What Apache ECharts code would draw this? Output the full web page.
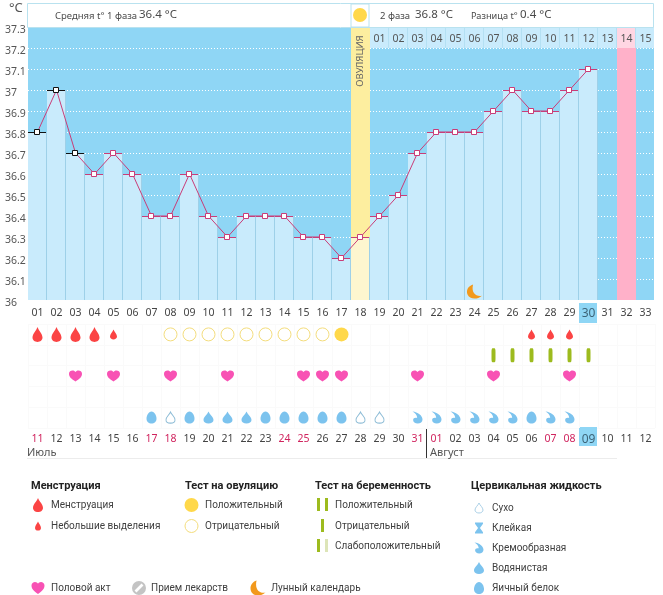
<!DOCTYPE html>
<html>
<head>
<meta charset="utf-8">
<script src="https://cdn.jsdelivr.net/npm/echarts@6/dist/echarts.min.js"></script>
<style>
  html, body { margin: 0; padding: 0; background: #fff; }
  #chart { width: 663px; height: 595px; }
</style>
</head>
<body>
<div id="chart"></div>
<script>
var cycleDays = ['01','02','03','04','05','06','07','08','09','10','11','12','13','14','15','16','17',
    '18','19','20','21','22','23','24','25','26','27','28','29','30','31','32','33'];
var calendarDays = ['11','12','13','14','15','16','17','18','19','20','21','22','23','24','25','26','27',
    '28','29','30','31','01','02','03','04','05','06','07','08','09','10','11','12'];
var nextCycleDays = ['','','','','','','','','','','','','','','','','',
    '','01','02','03','04','05','06','07','08','09','10','11','12','13','14','15'];
var temperatures = [36.8,37,36.7,36.6,36.7,36.6,36.4,36.4,36.6,36.4,36.3,36.4,36.4,36.4,36.3,36.3,36.2,
    36.3,36.4,36.5,36.7,36.8,36.8,36.8,36.9,37,36.9,36.9,37,37.1,null,null,null];
var redDates = [0,6,7,13,14,20,21,27,28];   // колонки выходных
var rowNames = ['Менструация', 'Тест на беременность', 'Половой акт', 'Прием лекарств', 'Цервикальная жидкость'];

var menstruationDays = [1,2,3,4];
var spottingDays = [5,27,28,29];
var ovulationNegDays = [8,9,10,11,12,13,14,15,16];
var ovulationPosDays = [17];
var pregnancyNegDays = [25,26,27,28,29,30];
var sexDays = [3,5,8,11,15,16,17,21,25,29];
var dryDays = [8,18,19];
var creamyDays = [21,22,23,24,25,26,28,29];
var waterDays = [10,11,12];
var eggDays = [7,9,13,14,15,16,17,27];
var moonDays = [24];
var moonLevel = 36.04;

var OVULATION_COL = 17, PINK_COL = 31, TODAY_COL = 29;
var DARK_POINTS = 3;
var MAGENTA = '#c93d78';

var PATHS = {
    drop: 'path://M50 0C62 30 100 52 100 85C100 105 78 120 50 120C22 120 0 105 0 85C0 52 38 30 50 0Z',
    heart: 'path://M50 100C20 78 0 60 0 30C0 10 14 0 27 0C38 0 46 6 50 14C54 6 62 0 73 0C86 0 100 10 100 30C100 60 80 78 50 100Z',
    egg: 'path://M50 0C80 0 100 40 100 72C100 102 78 120 50 120C22 120 0 102 0 72C0 40 20 0 50 0Z',
    creamy: 'path://M6 0C55 5 100 40 100 80C100 105 80 120 55 120C30 120 12 105 12 85C12 65 30 58 50 64C50 40 32 15 6 0Z',
    moon: 'path://M42 0C8 10 -4 42 6 68C18 96 62 108 100 76C62 84 28 58 42 0Z',
    sticky: 'path://M0 0L100 0L100 12L62 50L100 88L100 100L0 100L0 88L38 50L0 12Z',
    pill: 'path://M50 0A50 50 0 1 1 49.9 0ZM68 18L18 68L32 82L82 32Z'
};
var COLORS = {
    red: '#fb4444', heart: '#f852b4', yellow: '#ffd84a', ring: '#f3dc7c',
    green: '#9dbb1e', blue: '#7cc3ee', moon: '#f2991c', text: '#555555'
};

function toPoints(days, row) {
    return days.map(function (d) { return [d - 1, row]; });
}

function iconSeries(name, days, row, symbol, size, style) {
    return {
        name: name, type: 'scatter', xAxisIndex: 2, yAxisIndex: 1,
        data: toPoints(days, row), symbol: symbol, symbolSize: size,
        itemStyle: style, silent: true, z: 4
    };
}

// прямоугольник на всю колонку между двумя значениями
function columnRect(api, col, from, to) {
    var p0 = api.coord([col, from]);
    var p1 = api.coord([col, to]);
    var w = api.size([1, 0])[0];
    return { x: Math.round(p0[0] - w / 2), y: Math.round(p1[1]), width: Math.round(w), height: Math.round(p0[1] - p1[1]) };
}

var stripData = [[OVULATION_COL, 36, 37.3], [PINK_COL, 36, 37.2]];
var topBandData = [];
for (var c = 18; c < 33; c++) topBandData.push([c, 37.2, 37.3]);
var columnData = [];
temperatures.forEach(function (t, i) { if (t !== null) columnData.push([i, t]); });

var dashColor = function (params) { return params.dataIndex < DARK_POINTS ? '#111' : MAGENTA; };

// ---- значки легенды ----
function icon(path, cx, cy, w, h, style) {
    return { type: 'path',
        shape: { pathData: path.replace('path://', ''), x: cx - w / 2, y: cy - h / 2, width: w, height: h, layout: 'cover' },
        style: style };
}
var legendIcons = [
    icon(PATHS.drop, 38, 505, 10, 14, { fill: COLORS.red }),
    icon(PATHS.drop, 38, 526, 6, 9, { fill: COLORS.red }),
    icon(PATHS.drop, 479, 508, 8, 10, { fill: '#fff', stroke: '#a9cfe6', lineWidth: 1 }),
    icon(PATHS.sticky, 479, 528, 8, 11, { fill: COLORS.blue }),
    icon(PATHS.creamy, 479, 548, 9, 11, { fill: COLORS.blue }),
    icon(PATHS.drop, 479, 568, 10, 12, { fill: COLORS.blue }),
    icon(PATHS.egg, 479, 588, 10, 12, { fill: COLORS.blue }),
    icon(PATHS.heart, 38, 588, 13, 12, { fill: COLORS.heart }),
    icon(PATHS.pill, 139, 588, 14, 14, { fill: '#c4c4c4' }),
    icon(PATHS.moon, 258, 588, 15, 15, { fill: COLORS.moon })
];

var series = [
    {
        name: 'strips', type: 'custom', xAxisIndex: 0, yAxisIndex: 0, silent: true, z: 1,
        data: stripData,
        renderItem: function (params, api) {
            var col = api.value(0);
            return { type: 'rect', shape: columnRect(api, col, api.value(1), api.value(2)),
                style: { fill: col === OVULATION_COL ? '#fdee9f' : '#ffb1c9' } };
        }
    },
    {
        name: 'topBand', type: 'custom', xAxisIndex: 0, yAxisIndex: 0, silent: true, z: 1,
        data: topBandData,
        renderItem: function (params, api) {
            var col = api.value(0);
            var r = columnRect(api, col, api.value(1), api.value(2));
            return { type: 'group', children: [
                { type: 'rect', shape: r, style: { fill: col === PINK_COL ? '#ffd6e3' : '#c9ebfc' } },
                { type: 'rect', shape: { x: r.x + r.width - 1, y: r.y, width: 1, height: r.height }, style: { fill: '#b4e0f3' } }
            ] };
        }
    },
    {
        name: 'columns', type: 'custom', xAxisIndex: 0, yAxisIndex: 0, silent: true, z: 2,
        data: columnData,
        renderItem: function (params, api) {
            var col = api.value(0);
            var r = columnRect(api, col, 36, api.value(1));
            return { type: 'group', children: [
                { type: 'rect', shape: r, style: { fill: col === OVULATION_COL ? '#fdf6cf' : '#c9ebfc' } },
                { type: 'rect', shape: { x: r.x + r.width - 1, y: r.y, width: 1, height: r.height }, style: { fill: '#9ed0e8' } }
            ] };
        }
    },
    {
        name: 'Температура', type: 'line', xAxisIndex: 0, yAxisIndex: 0, z: 3, silent: true,
        data: temperatures, symbol: 'none', connectNulls: false,
        lineStyle: { color: MAGENTA, width: 1 }
    },
    {
        name: 'dash', type: 'scatter', xAxisIndex: 0, yAxisIndex: 0, z: 3, silent: true,
        data: temperatures, symbol: 'rect', symbolSize: [18, 1], symbolOffset: [-0.5, 0.5],
        itemStyle: { color: dashColor, opacity: 1 }
    },
    {
        name: 'markers', type: 'scatter', xAxisIndex: 0, yAxisIndex: 0, z: 5, silent: true,
        data: temperatures.map(function (t, i) {
            return { value: t, itemStyle: { borderColor: i < DARK_POINTS ? '#111' : MAGENTA } };
        }),
        symbol: 'rect', symbolSize: 5, symbolOffset: [-0.5, 0],
        itemStyle: { color: '#fff', borderWidth: 1, opacity: 1 }
    },
    {
        name: 'Лунный календарь', type: 'scatter', xAxisIndex: 0, yAxisIndex: 0, z: 4, silent: true,
        data: moonDays.map(function (d) { return [d - 1, moonLevel]; }),
        symbol: PATHS.moon, symbolSize: [15, 14], itemStyle: { color: COLORS.moon, opacity: 1 }
    },
    iconSeries('Менструация', menstruationDays, 0, PATHS.drop, [10, 15], { color: COLORS.red, opacity: 1 }),
    iconSeries('Небольшие выделения', spottingDays, 0, PATHS.drop, [7, 10], { color: COLORS.red, opacity: 1 }),
    iconSeries('Овуляция отрицательный', ovulationNegDays, 0, 'circle', 13, { color: '#fff', borderColor: COLORS.ring, borderWidth: 1, opacity: 1 }),
    iconSeries('Овуляция положительный', ovulationPosDays, 0, 'circle', 14, { color: COLORS.yellow, opacity: 1 }),
    iconSeries('Беременность отрицательный', pregnancyNegDays, 1, 'roundRect', [4, 14], { color: COLORS.green, opacity: 1 }),
    iconSeries('Половой акт', sexDays, 2, PATHS.heart, [13, 11], { color: COLORS.heart, opacity: 1 }),
    iconSeries('Сухо', dryDays, 4, PATHS.drop, [9, 11], { color: '#fff', borderColor: '#8dbcd6', borderWidth: 1, opacity: 1 }),
    iconSeries('Кремообразная', creamyDays, 4, PATHS.creamy, [10, 12], { color: COLORS.blue, opacity: 1 }),
    iconSeries('Водянистая', waterDays, 4, PATHS.drop, [10, 12], { color: COLORS.blue, opacity: 1 }),
    iconSeries('Яичный белок', eggDays, 4, PATHS.egg, [10, 12], { color: COLORS.blue, opacity: 1 }),
    {
        name: 'legendIcons', type: 'custom', coordinateSystem: 'none', silent: true, z: 20,
        data: [0],
        renderItem: function () { return { type: 'group', children: legendIcons }; }
    }
];

// ---- подписи и легенда ----
var SANS = '"Noto Sans", sans-serif';
var LEGEND_FONT = 'Roboto, sans-serif';

function txt(x, y, text, size, opts) {
    opts = opts || {};
    return { type: 'text', x: x, y: y, silent: true, z: 20, rotation: opts.rotation || 0, style: {
        text: text, fill: opts.color || COLORS.text, align: opts.align || 'left', verticalAlign: 'middle',
        font: (opts.bold ? 'bold ' : '') + size + 'px ' + (opts.font || SANS)
    } };
}
function legendTitle(x, text) {
    return txt(x, 486, text, 11, { bold: true, color: '#222', font: LEGEND_FONT });
}
function legendText(x, y, text) {
    return txt(x, y, text, 10, { color: '#3f3f3f', font: LEGEND_FONT });
}
function rect(x, y, w, h, fill, stroke, z) {
    return { type: 'rect', silent: true, z: z === undefined ? 19 : z, shape: { x: x, y: y, width: w, height: h }, style: { fill: fill, stroke: stroke || null, lineWidth: 1 } };
}
function circle(cx, cy, r, fill, stroke) {
    return { type: 'circle', silent: true, z: 20, shape: { cx: cx, cy: cy, r: r }, style: { fill: fill, stroke: stroke || null, lineWidth: 1 } };
}

var HEAD = '#4a4a4a';
var graphics = [
    txt(9, 8, '°C', 13),
    rect(27.5, 3.5, 626, 24, '#fff', '#b9e2ef'),
    rect(351, 4, 18, 23, '#fff', '#b9e2ef'),
    rect(654, 27, 1, 273, '#fff'),
    circle(360, 15, 7, COLORS.yellow),
    txt(55, 16, 'Средняя t° 1 фаза', 9.5, { color: HEAD }),
    txt(139, 15, '36.4 °C', 11.5, { color: HEAD }),
    txt(380, 16, '2 фаза', 9.5, { color: HEAD }),
    txt(415, 15, '36.8 °C', 11.5, { color: HEAD }),
    txt(471, 16, 'Разница t°', 9.2, { color: HEAD }),
    txt(520, 15, '0.4 °C', 11.5, { color: HEAD }),
    txt(360, 61, 'ОВУЛЯЦИЯ', 9.5, { rotation: Math.PI / 2, align: 'center', color: '#666' }),

    // подсветка текущего дня
    rect(579, 303, 18, 20, '#8fd6f5', null, 1),
    rect(579, 427, 18, 19, '#8fd6f5', null, 1),

    rect(426, 429, 1, 29, '#333'),
    rect(27, 458, 590, 1, '#ececec'),
    txt(27, 453, 'Июль', 11),
    txt(430, 453, 'Август', 11),

    legendTitle(31, 'Менструация'),
    legendText(51, 505, 'Менструация'),
    legendText(51, 526, 'Небольшие выделения'),

    legendTitle(185, 'Тест на овуляцию'),
    circle(191.5, 505, 7, COLORS.yellow),
    legendText(205, 505, 'Положительный'),
    circle(191.5, 526, 6.5, '#fff', COLORS.ring),
    legendText(205, 526, 'Отрицательный'),

    legendTitle(315, 'Тест на беременность'),
    rect(317, 498, 3, 13, COLORS.green),
    rect(325, 498, 3, 13, COLORS.green),
    legendText(335, 505, 'Положительный'),
    rect(321, 519, 3, 13, COLORS.green),
    legendText(335, 526, 'Отрицательный'),
    rect(317, 539, 3, 13, COLORS.green),
    rect(325, 539, 3, 13, '#dde5b8'),
    legendText(335, 546, 'Слабоположительный'),

    legendTitle(471, 'Цервикальная жидкость'),
    legendText(492, 508, 'Сухо'),
    legendText(492, 528, 'Клейкая'),
    legendText(492, 548, 'Кремообразная'),
    legendText(492, 568, 'Водянистая'),
    legendText(492, 588, 'Яичный белок'),

    legendText(51, 588, 'Половой акт'),
    legendText(151, 588, 'Прием лекарств'),
    legendText(271, 588, 'Лунный календарь')
];

var todayRich = { today: { fontSize: 12, color: '#3d6478' } };

var option = {
    animation: false,
    textStyle: { fontFamily: SANS },
    grid: [
        { left: 28, top: 27, width: 627, height: 273, show: true, backgroundColor: '#8fd6f5', borderWidth: 0 },
        { left: 28, top: 324, width: 627, height: 104, show: false }
    ],
    xAxis: [
        {
            type: 'category', gridIndex: 0, data: cycleDays, z: 10,
            axisLine: { show: false }, axisTick: { show: false }, splitLine: { show: false },
            axisLabel: {
                interval: 0, margin: 8, color: '#444', fontSize: 10.5, fontFamily: SANS,
                formatter: function (v, i) { return i === TODAY_COL ? '{today|' + v + '}' : v; },
                rich: todayRich
            }
        },
        {
            type: 'category', gridIndex: 0, position: 'top', data: nextCycleDays, z: 10,
            axisLine: { show: false }, axisTick: { show: false }, splitLine: { show: false },
            axisLabel: { interval: 0, inside: true, margin: 7, color: '#555', fontSize: 10.5, fontFamily: SANS }
        },
        {
            type: 'category', gridIndex: 1, data: calendarDays, z: 10,
            axisLine: { show: false }, axisTick: { show: false },
            splitLine: { show: true, interval: 0, lineStyle: { color: '#fafafa' } },
            axisLabel: {
                interval: 0, margin: 6, fontSize: 10.5, fontFamily: SANS,
                color: function (v, i) { return redDates.indexOf(i) >= 0 ? '#d0245e' : '#444'; },
                formatter: function (v, i) { return i === TODAY_COL ? '{today|' + v + '}' : v; },
                rich: todayRich
            }
        }
    ],
    yAxis: [
        {
            type: 'value', gridIndex: 0, min: 36, max: 37.3, interval: 0.1,
            axisLine: { show: false }, axisTick: { show: false },
            splitLine: { show: true, lineStyle: { color: '#ffffff', type: [1, 2], width: 1 } },
            axisLabel: { align: 'left', margin: 23, color: '#555', fontSize: 10.5, fontFamily: SANS, verticalAlign: 'top', lineHeight: 6 }
        },
        {
            type: 'category', gridIndex: 1, data: rowNames, inverse: true,
            axisLine: { show: false }, axisTick: { show: false }, axisLabel: { show: false },
            splitLine: { show: true, interval: 0, lineStyle: { color: '#fafafa' } }
        }
    ],
    series: series,
    graphic: graphics
};

var chart = echarts.init(document.getElementById('chart'));
chart.setOption(option);
</script>
</body>
</html>
